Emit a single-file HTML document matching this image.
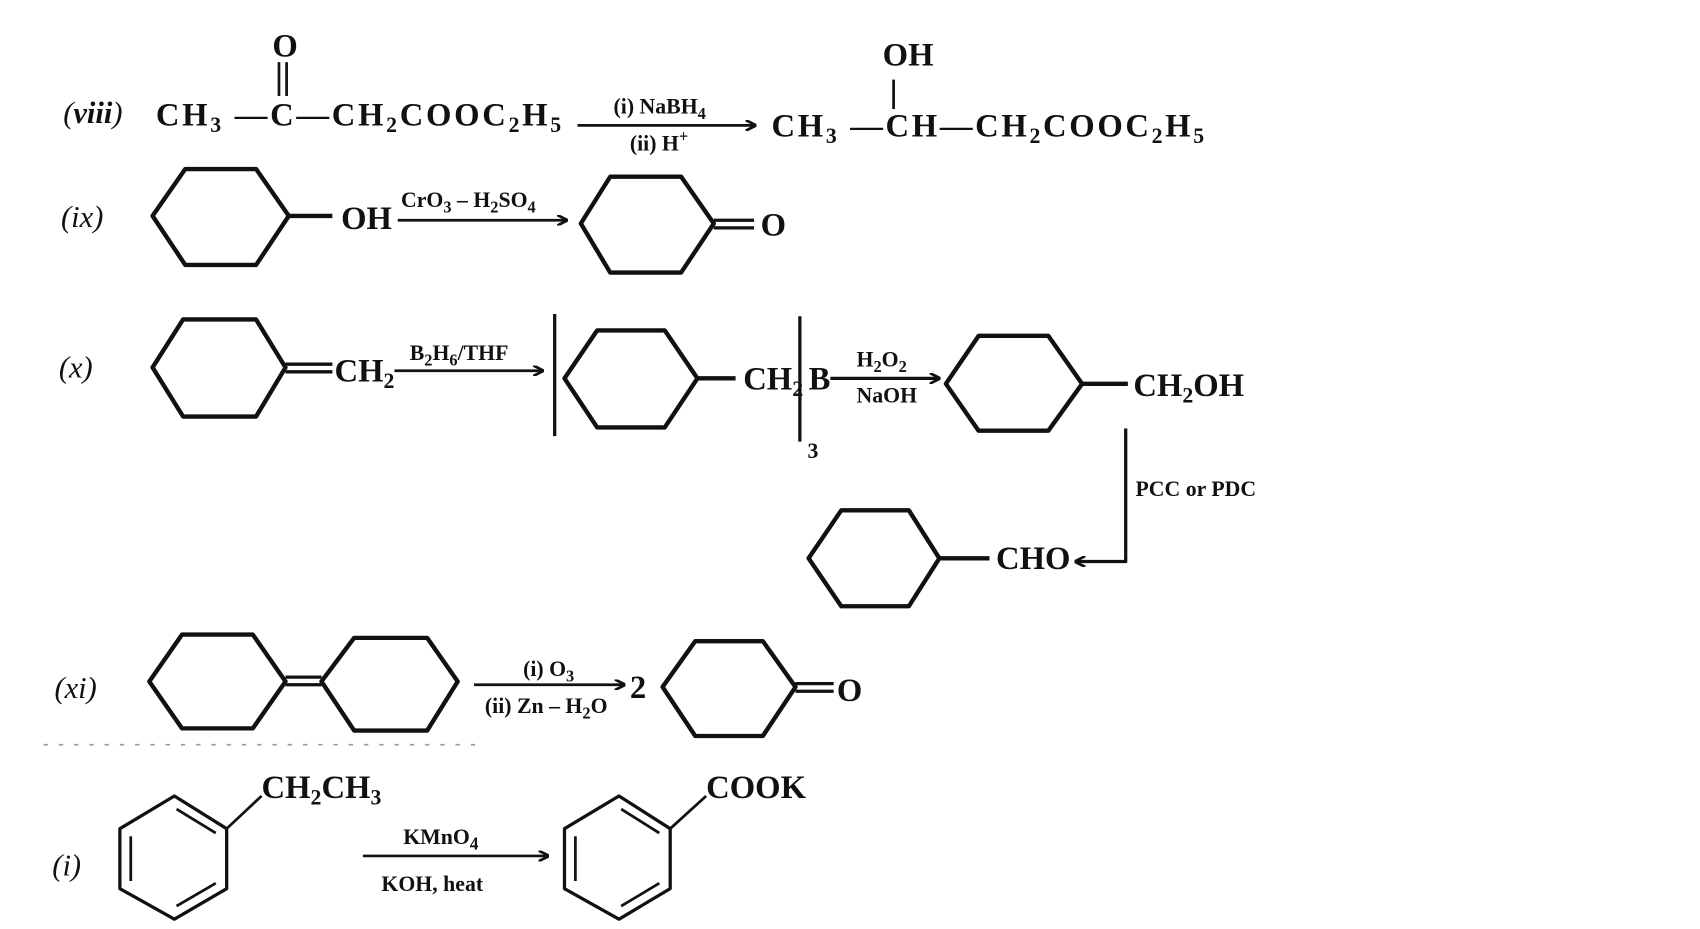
<!DOCTYPE html>
<html><head><meta charset="utf-8"><style>
html,body{margin:0;padding:0;background:#fff;}
svg{display:block}
text{font-family:"Liberation Serif",serif;font-weight:bold;fill:#111;}
.t{font-size:30px}
.s{font-size:20px}
.l{font-size:28px;font-style:italic;font-weight:normal}
</style></head><body>
<svg width="1700" height="929" viewBox="0 0 1560 852" preserveAspectRatio="none" xmlns="http://www.w3.org/2000/svg">
<defs><marker id="a" markerWidth="10" markerHeight="10" refX="9" refY="5" orient="auto" markerUnits="userSpaceOnUse"><path d="M0,0 L10,5 L0,10" fill="none" stroke="#111" stroke-width="2.5"/></marker></defs>
<g stroke="#111" stroke-width="4" fill="none" stroke-linejoin="round">
<line x1="256" y1="57" x2="256" y2="88" stroke-width="2.5"/><line x1="263" y1="57" x2="263" y2="88" stroke-width="2.5"/>
<line x1="530" y1="115" x2="693" y2="115" stroke-width="2.5" marker-end="url(#a)"/>
<line x1="820" y1="73" x2="820" y2="100" stroke-width="2.5"/>
<polygon points="140,198 170,155 235,155 265,198 235,243 170,243"/>
<line x1="265" y1="198" x2="305" y2="198"/>
<line x1="365" y1="202" x2="520" y2="202" stroke-width="2.5" marker-end="url(#a)"/>
<polygon points="533,205 560,162 625,162 655,205 625,250 560,250"/>
<line x1="655" y1="202" x2="692" y2="202" stroke-width="3"/><line x1="655" y1="209" x2="692" y2="209" stroke-width="3"/>
<polygon points="140,337 168,293 235,293 262,337 235,382 168,382"/>
<line x1="262" y1="334" x2="305" y2="334" stroke-width="3"/><line x1="262" y1="341" x2="305" y2="341" stroke-width="3"/>
<line x1="362" y1="340" x2="498" y2="340" stroke-width="2.5" marker-end="url(#a)"/>
<line x1="509" y1="288" x2="509" y2="400" stroke-width="3"/>
<polygon points="518,347 548,303 610,303 640,347 610,392 548,392"/>
<line x1="640" y1="347" x2="675" y2="347"/>
<line x1="734" y1="290" x2="734" y2="405" stroke-width="3"/>
<line x1="762" y1="347" x2="862" y2="347" stroke-width="3" marker-end="url(#a)"/>
<polygon points="868,352 898,308 962,308 993,352 962,395 898,395"/>
<line x1="993" y1="352" x2="1035" y2="352"/>
<polyline points="1033,393 1033,515 987,515" stroke-width="3" marker-end="url(#a)"/>
<polygon points="742,512 772,468 834,468 862,512 834,556 772,556"/>
<line x1="862" y1="512" x2="908" y2="512"/>
<polygon points="137,625 167,582 232,582 262,625 232,668 167,668"/>
<polygon points="295,625 325,585 392,585 420,625 392,670 325,670"/>
<line x1="262" y1="621" x2="295" y2="621" stroke-width="3"/><line x1="262" y1="628" x2="295" y2="628" stroke-width="3"/>
<line x1="435" y1="628" x2="573" y2="628" stroke-width="2.5" marker-end="url(#a)"/>
<polygon points="608,630 638,588 700,588 730,630 700,675 638,675"/>
<line x1="730" y1="627" x2="765" y2="627" stroke-width="3"/><line x1="730" y1="634" x2="765" y2="634" stroke-width="3"/>
<polygon points="110,760 160,730 208,760 208,815 160,843 110,815" stroke-width="3"/>
<line x1="120" y1="767" x2="120" y2="808" stroke-width="2.5"/><line x1="162" y1="742" x2="198" y2="764" stroke-width="2.5"/><line x1="162" y1="831" x2="198" y2="810" stroke-width="2.5"/>
<line x1="208" y1="760" x2="240" y2="730" stroke-width="2.5"/>
<line x1="333" y1="785" x2="503" y2="785" stroke-width="2.5" marker-end="url(#a)"/>
<polygon points="518,760 568,730 615,760 615,815 568,843 518,815" stroke-width="3"/>
<line x1="528" y1="767" x2="528" y2="808" stroke-width="2.5"/><line x1="570" y1="742" x2="605" y2="764" stroke-width="2.5"/><line x1="570" y1="831" x2="605" y2="810" stroke-width="2.5"/>
<line x1="615" y1="760" x2="648" y2="730" stroke-width="2.5"/>
</g>
<line x1="40" y1="683" x2="440" y2="683" stroke="#999" stroke-width="1.5" stroke-dasharray="4,10"/>
<text class="l" x="58" y="113">(<tspan font-weight="bold">viii</tspan>)</text>
<text class="t" x="250" y="52">O</text>
<text class="t" x="143" y="115" textLength="372" lengthAdjust="spacing">CH<tspan class="s" dy="6">3</tspan><tspan dy="-6"> —C—CH</tspan><tspan class="s" dy="6">2</tspan><tspan dy="-6">COOC</tspan><tspan class="s" dy="6">2</tspan><tspan dy="-6">H</tspan><tspan class="s" dy="6">5</tspan></text>
<text class="s" x="563" y="104">(i) NaBH<tspan font-size="15" dy="5">4</tspan></text>
<text class="s" x="578" y="138">(ii) H<tspan font-size="15" dy="-8">+</tspan></text>
<text class="t" x="810" y="60">OH</text>
<text class="t" x="708" y="125" textLength="397" lengthAdjust="spacing">CH<tspan class="s" dy="6">3</tspan><tspan dy="-6"> —CH—CH</tspan><tspan class="s" dy="6">2</tspan><tspan dy="-6">COOC</tspan><tspan class="s" dy="6">2</tspan><tspan dy="-6">H</tspan><tspan class="s" dy="6">5</tspan></text>
<text class="l" x="56" y="208">(ix)</text>
<text class="t" x="313" y="210">OH</text>
<text class="s" x="368" y="190">CrO<tspan font-size="15" dy="5">3</tspan><tspan dy="-5"> – H</tspan><tspan font-size="15" dy="5">2</tspan><tspan dy="-5">SO</tspan><tspan font-size="15" dy="5">4</tspan></text>
<text class="t" x="698" y="216">O</text>
<text class="l" x="54" y="346">(x)</text>
<text class="t" x="307" y="350">CH<tspan class="s" dy="6">2</tspan></text>
<text class="s" x="376" y="330">B<tspan font-size="15" dy="5">2</tspan><tspan dy="-5">H</tspan><tspan font-size="15" dy="5">6</tspan><tspan dy="-5">/THF</tspan></text>
<text class="t" x="682" y="357">CH<tspan class="s" dy="6">2</tspan></text>
<text class="s" x="741" y="420">3</text>
<text class="t" x="742" y="357">B</text>
<text class="s" x="786" y="336">H<tspan font-size="15" dy="5">2</tspan><tspan dy="-5">O</tspan><tspan font-size="15" dy="5">2</tspan></text>
<text class="s" x="786" y="369">NaOH</text>
<text class="t" x="1040" y="363">CH<tspan class="s" dy="6">2</tspan><tspan dy="-6">OH</tspan></text>
<text class="s" x="1042" y="455" font-size="24">PCC or PDC</text>
<text class="t" x="914" y="522">CHO</text>
<text class="l" x="50" y="640">(xi)</text>
<text class="s" x="480" y="620">(i) O<tspan font-size="15" dy="5">3</tspan></text>
<text class="s" x="445" y="654">(ii) Zn – H<tspan font-size="15" dy="5">2</tspan><tspan dy="-5">O</tspan></text>
<text class="t" x="578" y="640">2</text>
<text class="t" x="768" y="643">O</text>
<text class="l" x="48" y="803">(i)</text>
<text class="t" x="240" y="732">CH<tspan class="s" dy="6">2</tspan><tspan dy="-6">CH</tspan><tspan class="s" dy="6">3</tspan></text>
<text class="s" x="370" y="774" font-size="24">KMnO<tspan font-size="16" dy="5">4</tspan></text>
<text class="s" x="350" y="817" font-size="24">KOH, heat</text>
<text class="t" x="648" y="732">COOK</text>
</svg>
</body></html>
